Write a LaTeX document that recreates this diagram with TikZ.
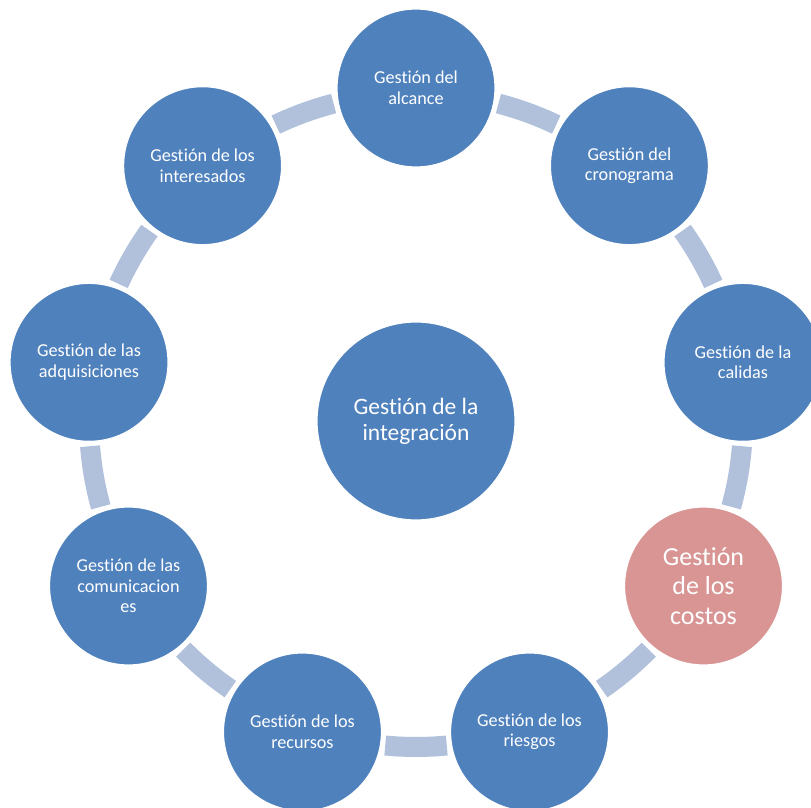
\documentclass[tikz,border=0pt]{standalone}
\usepackage{fontspec}
\setmainfont{Carlito}[RawFeature={-liga}]
\definecolor{nodeblue}{HTML}{4F81BD}
\definecolor{nodepink}{HTML}{D99594}
\definecolor{bandblue}{HTML}{B1C1DC}
\tikzset{
  phase/.style={circle, fill=nodeblue, draw=white, line width=1.2pt,
    minimum size=158pt, inner sep=0pt, text=white, align=center,
    font=\fontsize{18.2}{20.5}\selectfont},
  hilite/.style={phase, fill=nodepink, font=\fontsize{26}{29.5}\selectfont},
  hub/.style={phase, minimum size=198pt, font=\fontsize{23.5}{26}\selectfont},
  band/.style={draw=bandblue, line width=20pt}
}
\begin{document}
\begin{tikzpicture}[x=1pt,y=1pt]
\useasboundingbox (0,0) rectangle (811,807);
\clip (0,0) rectangle (811,807);
\coordinate (ring) at (416,387);
% connecting arcs between neighbouring phases
\foreach \m in {70,30,-10,-50,-90,-130,-170,150,110}{
  \draw[band] (ring) ++(\m+5.4:327) arc[start angle=\m+5.4, end angle=\m-5.4, radius=327];
}
% outer phases
\node[phase] (alcance)   at ([shift={(90:332)}]ring)   {Gestión del\\alcance};
\node[phase] (crono)     at ([shift={(50:332)}]ring)   {Gestión del\\cronograma};
\node[phase] (calidad)   at ([shift={(10:332)}]ring)   {Gestión de la\\calidas};
\node[hilite] (costos)   at ([shift={(-30:332)}]ring)  {Gestión\\de los\\costos};
\node[phase] (riesgos)   at ([shift={(-70:332)}]ring)  {Gestión de los\\riesgos};
\node[phase] (recursos)  at ([shift={(-110:332)}]ring) {Gestión de los\\recursos};
\node[phase] (comunic)   at ([shift={(-150:332)}]ring) {Gestión de las\\comunicacion\\es};
\node[phase] (adquis)    at ([shift={(170:332)}]ring)  {Gestión de las\\adquisiciones};
\node[phase] (interes)   at ([shift={(130:332)}]ring)  {Gestión de los\\interesados};
% central phase
\node[hub] (integ) at ([shift={(0,-1)}]ring) {Gestión de la\\integración};
\end{tikzpicture}
\end{document}
